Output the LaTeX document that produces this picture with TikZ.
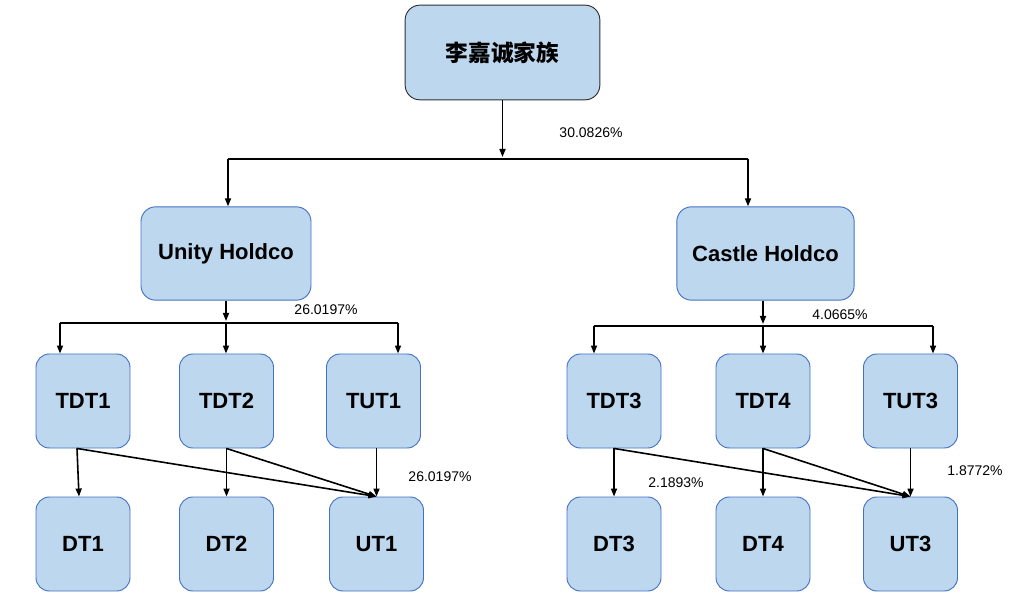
\documentclass[tikz,border=0pt]{standalone}
\usepackage{fontspec}
\setmainfont{Liberation Sans}
\newfontfamily\cjk{Noto Sans CJK SC}
\usetikzlibrary{arrows.meta,positioning}
\definecolor{boxfill}{HTML}{BDD7EE}
\definecolor{boxline}{HTML}{4472C4}
\definecolor{topline}{HTML}{303030}
\tikzset{
  holder/.style={rectangle,rounded corners=11pt,draw=#1,fill=boxfill,line width=0.7pt,
    minimum width=127.5pt,minimum height=70pt,align=center,inner sep=0pt,
    font=\fontsize{16.5}{19}\selectfont\bfseries},
  holder/.default=boxline,
  trust/.style={holder,rounded corners=10pt,minimum width=70.5pt,minimum height=70.5pt},
  share/.style={font=\fontsize{10.5}{13}\selectfont},
  arrow/.style={-{Triangle[length=6pt,width=4.5pt]},line width=1.2pt,draw=black},
  bar/.style={line width=1.2pt,draw=black}
}

\begin{document}
\begin{tikzpicture}[x=0.75pt,y=-0.75pt]
\useasboundingbox (0,0) rectangle (1017,609);

\node[holder=topline,minimum width=146pt,minimum height=71pt,
  font=\cjk\fontsize{17}{20}\selectfont\bfseries] (family) at (502.5,52.5) {李嘉诚家族};

\node[holder] (unity) at (226,253.5) {Unity Holdco};
\node[holder,minimum width=133pt] (castle) at (765.5,253.5) {Castle Holdco};

\node[trust] (tdt1) at (83,401) {TDT1};
\node[trust] (tdt2) at (226.5,401) {TDT2};
\node[trust] (tut1) at (373.5,401) {TUT1};
\node[trust] (dt1) at (83,544) {DT1};
\node[trust] (dt2) at (226.5,544) {DT2};
\node[trust] (ut1) at (376.5,544) {UT1};

\node[trust] (tdt3) at (614,401) {TDT3};
\node[trust] (tdt4) at (763,401) {TDT4};
\node[trust] (tut3) at (910.5,401) {TUT3};
\node[trust] (dt3) at (614,544) {DT3};
\node[trust] (dt4) at (763,544) {DT4};
\node[trust] (ut3) at (910.5,544) {UT3};

% junctions
\coordinate (famjoin) at (502.5,157);
\coordinate (famL) at (228,159);
\coordinate (famR) at (748,159);
\coordinate (unijoin) at (226,321);
\coordinate (uniL) at (60,323);
\coordinate (uniM) at (226,323);
\coordinate (uniR) at (398,323);
\coordinate (casjoin) at (763,324);
\coordinate (casL) at (594,326);
\coordinate (casM) at (763,326);
\coordinate (casR) at (933,326);

\draw[arrow] (family.south) -- (famjoin);
\draw[bar] (famL) -- (famR);
\draw[arrow] (famL) -- (famL |- unity.north);
\draw[arrow] (famR) -- (famR |- castle.north);

\draw[arrow] (unity.south) -- (unijoin);
\draw[bar] (uniL) -- (uniR);
\draw[arrow] (uniL) -- (uniL |- tdt1.north);
\draw[arrow] (uniM) -- (uniM |- tdt2.north);
\draw[arrow] (uniR) -- (uniR |- tut1.north);

\draw[arrow] (casjoin |- castle.south) -- (casjoin);
\draw[bar] (casL) -- (casR);
\draw[arrow] (casL) -- (casL |- tdt3.north);
\draw[arrow] (casM) -- (casM |- tdt4.north);
\draw[arrow] (casR) -- (casR |- tut3.north);

\draw[arrow] ([xshift=-4.5pt]tdt1.south) -- ([xshift=-3pt]dt1.north);
\draw[arrow] ([xshift=-4.5pt]tdt1.south) -- (ut1.north);
\draw[arrow] (tdt2.south) -- (dt2.north);
\draw[arrow] (tdt2.south) -- (ut1.north);
\draw[arrow] (tut1.south -| ut1.north) -- (ut1.north);

\draw[arrow] (tdt3.south) -- (dt3.north);
\draw[arrow] (tdt3.south) -- (ut3.north);
\draw[arrow] (tdt4.south) -- (dt4.north);
\draw[arrow] (tdt4.south) -- (ut3.north);
\draw[arrow] (tut3.south) -- (ut3.north);

\node[share] (pfam) at (591,133) {30.0826\%};
\node[share] (puni) at (326,310) {26.0197\%};
\node[share] (pcas) at (840,315) {4.0665\%};
\node[share] (put1) at (440,477) {26.0197\%};
\node[share] (pdt3) at (676,483) {2.1893\%};
\node[share] (put3) at (975,471) {1.8772\%};
\end{tikzpicture}
\end{document}
